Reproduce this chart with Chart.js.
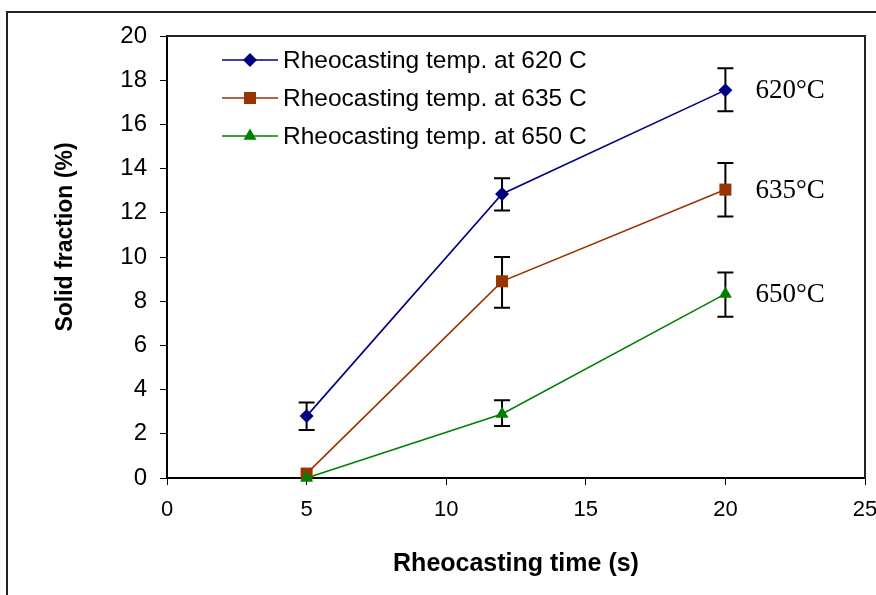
<!DOCTYPE html>
<html><head><meta charset="utf-8">
<script src="https://cdn.jsdelivr.net/npm/chart.js@4/dist/chart.umd.min.js"></script>
<style>html,body{margin:0;padding:0;background:#fff}#wrap{width:876px;height:595px;position:relative}</style>
</head><body><div id="wrap"><canvas id="c" width="876" height="595"></canvas></div>
<script>
const times = [5, 12, 20];
const series620 = [2.8, 12.85, 17.55];
const series635 = [0.2, 8.9, 13.05];
const series650 = [0, 2.9, 8.33];
const err620Low = [2.17, 12.1, 16.6];
const err620High = [3.42, 13.56, 18.54];
const err635Low = [null, 7.7, 11.83];
const err635High = [null, 10.0, 14.25];
const err650Low = [null, 2.35, 7.3];
const err650High = [null, 3.52, 9.3];
const legendLabels = ['Rheocasting temp. at 620 C', 'Rheocasting temp. at 635 C', 'Rheocasting temp. at 650 C'];
const endLabels = ['620\u00B0C', '635\u00B0C', '650\u00B0C'];
const xTicks = [0, 5, 10, 15, 20, 25];
const yTicks = [0, 2, 4, 6, 8, 10, 12, 14, 16, 18, 20];
const xTitle = 'Rheocasting time (s)';
const yTitle = 'Solid fraction (%)';

const pts = (ys) => times.map((t, i) => ({x: t, y: ys[i]}));
const colors = ['#000080', '#993300', '#008000'];
const styles = ['rectRot', 'rect', 'triangle'];
const radii = [7, 8.5, 7.5];
const errs = [[err620Low, err620High], [err635Low, err635High], [err650Low, err650High]];

const datasets = [series620, series635, series650].map((s, i) => ({
  label: legendLabels[i],
  data: pts(s),
  showLine: true,
  borderColor: colors[i],
  backgroundColor: colors[i],
  borderWidth: 1.6,
  pointStyle: styles[i],
  pointRadius: radii[i],
  pointHoverRadius: radii[i],
  pointBorderWidth: 0,
  clip: false,
  order: 2 - i
}));

const frame = {
  id: 'frame',
  beforeDraw(chart) {
    const ctx = chart.ctx;
    ctx.save();
    ctx.fillStyle = '#fff';
    ctx.fillRect(0, 0, chart.width, chart.height);
    ctx.strokeStyle = '#222';
    ctx.lineWidth = 2;
    ctx.beginPath();
    ctx.moveTo(876, 12); ctx.lineTo(7, 12); ctx.lineTo(7, 595);
    ctx.stroke();
    ctx.restore();
  },
  beforeDatasetsDraw(chart) {
    const ctx = chart.ctx;
    const xs = chart.scales.x, ys = chart.scales.y;
    ctx.save();
    ctx.strokeStyle = '#000';
    ctx.lineWidth = 2;
    errs.forEach(([lo, hi]) => {
      times.forEach((t, i) => {
        if (lo[i] == null) return;
        const px = xs.getPixelForValue(t);
        const y1 = ys.getPixelForValue(lo[i]);
        const y2 = ys.getPixelForValue(hi[i]);
        ctx.beginPath();
        ctx.moveTo(px, y1); ctx.lineTo(px, y2);
        ctx.moveTo(px - 8, y1); ctx.lineTo(px + 8, y1);
        ctx.moveTo(px - 8, y2); ctx.lineTo(px + 8, y2);
        ctx.stroke();
      });
    });
    ctx.restore();
  },
  afterDraw(chart) {
    const ctx = chart.ctx;
    const a = chart.chartArea;
    const xs = chart.scales.x, ys = chart.scales.y;
    ctx.save();
    ctx.strokeStyle = '#222';
    ctx.lineWidth = 2;
    ctx.beginPath();
    ctx.moveTo(a.left, a.top); ctx.lineTo(a.right, a.top); ctx.lineTo(a.right, a.bottom);
    ctx.stroke();
    // y title
    ctx.save();
    ctx.translate(66, 237);
    ctx.rotate(-Math.PI / 2);
    ctx.font = 'bold 23px "Liberation Sans", Arial, sans-serif';
    ctx.fillStyle = '#000';
    ctx.textAlign = 'center';
    ctx.textBaseline = 'middle';
    ctx.fillText(yTitle, 0, 0);
    ctx.restore();
    // legend
    const rows = [60, 98, 136];
    ctx.font = '24.5px "Liberation Sans", Arial, sans-serif';
    ctx.textBaseline = 'middle';
    datasets.forEach((d, i) => {
      const y = rows[i];
      ctx.strokeStyle = d.borderColor;
      ctx.lineWidth = 1.6;
      ctx.beginPath(); ctx.moveTo(222, y); ctx.lineTo(278, y); ctx.stroke();
      ctx.fillStyle = d.backgroundColor;
      Chart.helpers.drawPoint(ctx, {pointStyle: d.pointStyle, radius: d.pointRadius, rotation: 0, borderWidth: 0}, 250, y);
      ctx.fillStyle = '#000';
      ctx.textAlign = 'left';
      ctx.fillText(d.label, 283, y + 1);
    });
    // end labels
    ctx.font = '27px "Liberation Serif", "Times New Roman", serif';
    ctx.fillStyle = '#000';
    [series620, series635, series650].forEach((s, i) => {
      const n = s.length - 1;
      ctx.fillText(endLabels[i], xs.getPixelForValue(times[n]) + 30, ys.getPixelForValue(s[n]) + 1);
    });
    ctx.restore();
  }
};

new Chart(document.getElementById('c'), {
  type: 'scatter',
  data: {datasets},
  options: {
    responsive: false,
    animation: false,
    devicePixelRatio: 1,
    layout: {padding: {left: 0, top: 36, right: 11, bottom: 0}},
    plugins: {legend: {display: false}, tooltip: {enabled: false}},
    scales: {
      x: {
        type: 'linear', min: 0, max: 25,
        afterBuildTicks: (s) => { s.ticks = xTicks.map(v => ({value: v})); },
        afterFit: (s) => { s.height = 117; s.paddingRight = 0; s.paddingLeft = 0; },
        grid: {drawOnChartArea: false, drawTicks: true, tickLength: 7, color: '#000', lineWidth: 1},
        border: {display: true, color: '#000', width: 2},
        ticks: {color: '#000', padding: 12, font: {family: '"Liberation Sans", Arial, sans-serif', size: 22}, maxRotation: 0},
        title: {display: true, text: xTitle, color: '#000', padding: {top: 0, bottom: 16},
          font: {family: '"Liberation Sans", Arial, sans-serif', size: 25, weight: 'bold'}}
      },
      y: {
        type: 'linear', min: 0, max: 20,
        afterBuildTicks: (s) => { s.ticks = yTicks.map(v => ({value: v})); },
        afterFit: (s) => { s.width = 167; s.paddingTop = 0; s.paddingBottom = 0; },
        grid: {drawOnChartArea: false, drawTicks: true, tickLength: 7, color: '#000', lineWidth: 1},
        border: {display: true, color: '#000', width: 2},
        ticks: {color: '#000', padding: 13, font: {family: '"Liberation Sans", Arial, sans-serif', size: 24}},
        title: {display: false}
      }
    }
  },
  plugins: [frame]
});
</script></body></html>
